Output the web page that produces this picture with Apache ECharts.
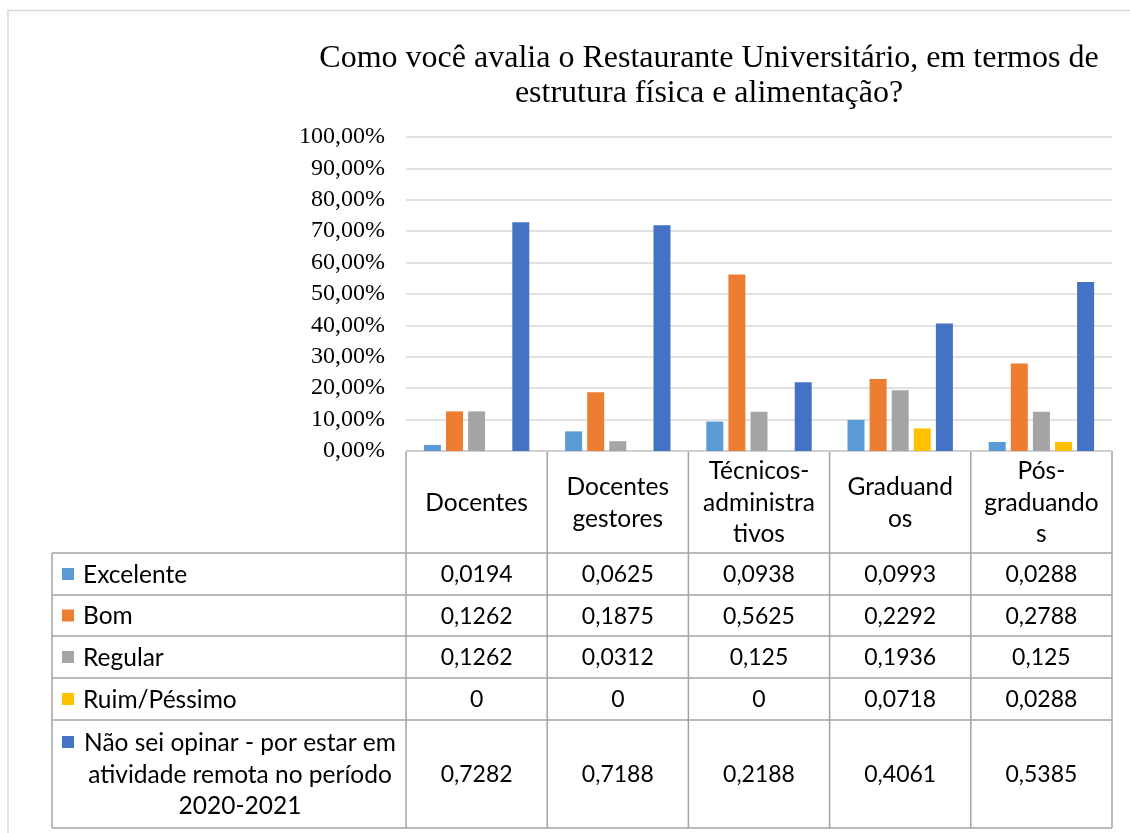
<!DOCTYPE html>
<html>
<head>
<meta charset="utf-8">
<script src="https://cdn.jsdelivr.net/npm/echarts@6/dist/echarts.min.js"></script>
<style>
  html, body { margin: 0; padding: 0; background: #ffffff; }
  #chart { width: 1130px; height: 833px; }
</style>
</head>
<body>
<div id="chart"></div>
<script>
// Groups surveyed (x categories) and their wrapped header text in the data table
const categories = ['Docentes', 'Docentes gestores', 'Técnicos-administrativos', 'Graduandos', 'Pós-graduandos'];
const headerLabels = ['Docentes', 'Docentes\ngestores', 'Técnicos-\nadministra\ntivos', 'Graduand\nos', 'Pós-\ngraduando\ns'];

// Share of answers per rating
const excelente = [0.0194, 0.0625, 0.0938, 0.0993, 0.0288];
const bom       = [0.1262, 0.1875, 0.5625, 0.2292, 0.2788];
const regular   = [0.1262, 0.0312, 0.125, 0.1936, 0.125];
const ruim      = [0, 0, 0, 0.0718, 0.0288];
const naoSei    = [0.7282, 0.7188, 0.2188, 0.4061, 0.5385];

const seriesNames = ['Excelente', 'Bom', 'Regular', 'Ruim/Péssimo',
  'Não sei opinar - por estar em atividade remota no período 2020-2021'];
const seriesLabelLines = ['Excelente', 'Bom', 'Regular', 'Ruim/Péssimo',
  'Não sei opinar - por estar em\natividade remota no período\n2020-2021'];
const seriesData = [excelente, bom, regular, ruim, naoSei];
const seriesColors = ['#5b9bd5', '#ed7d31', '#a5a5a5', '#ffc000', '#4472c4'];

const titleText = 'Como você avalia o Restaurante Universitário, em termos de\nestrutura física e alimentação?';

// y-axis ticks: 0 .. 1 step 0.1, shown as "10,00%"
const yMin = 0, yMax = 1, yStep = 0.1;
const fmtPct = v => (v * 100).toFixed(2).replace('.', ',') + '%';
const fmtVal = v => String(v).replace('.', ',');

// Layout
const W = 1130, H = 833;
const gridLeft = 406, gridRight = 1112, gridTop = 137, gridBottom = 451;
const colW = (gridRight - gridLeft) / categories.length;
const tableLeft = 52;
const rowEdges = [451, 553, 595, 636, 678, 720, 828];   // header + 5 rows
const lineColor = '#a3a3a3';
const tableFont = 'Lato, "Noto Sans", sans-serif';
const textSize = 24.5;   // header and row names
const valueSize = 23;    // numbers

const chart = echarts.init(document.getElementById('chart'), null, { renderer: 'canvas' });

const graphics = [];

// outer frame of the chart area
graphics.push({
  type: 'polyline', silent: true,
  shape: { points: [[8, H + 5], [8, 10.5], [W + 5, 10.5]] },
  style: { stroke: '#d9d9d9', lineWidth: 1.5, fill: null }
});

// table horizontal lines
rowEdges.forEach((y, i) => {
  graphics.push({
    type: 'line', silent: true,
    shape: { x1: i === 0 ? gridLeft : tableLeft, y1: y, x2: gridRight, y2: y },
    style: { stroke: lineColor, lineWidth: 1.5 }
  });
});
// table vertical lines
for (let c = 0; c <= categories.length; c++) {
  const x = gridLeft + c * colW;
  graphics.push({
    type: 'line', silent: true,
    shape: { x1: x, y1: rowEdges[0], x2: x, y2: rowEdges[rowEdges.length - 1] },
    style: { stroke: lineColor, lineWidth: 1.5 }
  });
}
graphics.push({
  type: 'line', silent: true,
  shape: { x1: tableLeft, y1: rowEdges[1], x2: tableLeft, y2: rowEdges[rowEdges.length - 1] },
  style: { stroke: lineColor, lineWidth: 1.5 }
});

// header cells
headerLabels.forEach((t, c) => {
  graphics.push({
    type: 'text', silent: true,
    x: gridLeft + (c + 0.5) * colW, y: (rowEdges[0] + rowEdges[1]) / 2 + 1,
    style: {
      text: t, fill: '#000', font: textSize + 'px ' + tableFont,
      align: 'center', verticalAlign: 'middle', lineHeight: 31.5
    }
  });
});

// series rows: legend key, name, values
seriesNames.forEach((name, r) => {
  const yTop = rowEdges[r + 1], yBot = rowEdges[r + 2];
  const yMid = (yTop + yBot) / 2;
  const multi = seriesLabelLines[r].indexOf('\n') >= 0;
  const keyY = multi ? yTop + 22 : yMid;
  graphics.push({
    type: 'rect', silent: true,
    shape: { x: 62, y: keyY - 6, width: 12, height: 12 },
    style: { fill: seriesColors[r] }
  });
  graphics.push({
    type: 'text', silent: true,
    x: multi ? 240 : 83, y: yMid + 1,
    style: {
      text: seriesLabelLines[r], fill: '#000', font: textSize + 'px ' + tableFont,
      align: multi ? 'center' : 'left', verticalAlign: 'middle', lineHeight: 31.5
    }
  });
  seriesData[r].forEach((v, c) => {
    graphics.push({
      type: 'text', silent: true,
      x: gridLeft + (c + 0.5) * colW, y: yMid + 1,
      style: {
        text: fmtVal(v), fill: '#000', font: valueSize + 'px ' + tableFont,
        align: 'center', verticalAlign: 'middle'
      }
    });
  });
});

const option = {
  backgroundColor: '#ffffff',
  animation: false,
  title: {
    text: titleText,
    left: 704, top: 36,
    textAlign: 'center',
    textStyle: {
      fontFamily: '"Liberation Serif", "Times New Roman", serif',
      fontSize: 32, fontWeight: 'normal', color: '#000', lineHeight: 35
    }
  },
  legend: { show: false },
  grid: {
    left: gridLeft, right: W - gridRight, top: gridTop, bottom: H - gridBottom,
    containLabel: false
  },
  xAxis: {
    type: 'category',
    data: categories,
    axisLine: { show: false },
    axisTick: { show: false },
    axisLabel: { show: false },
    splitLine: { show: false }
  },
  yAxis: {
    type: 'value',
    min: yMin, max: yMax, interval: yStep,
    axisLine: { show: false },
    axisTick: { show: false },
    axisLabel: {
      formatter: fmtPct, margin: 21, color: '#000',
      fontFamily: '"Liberation Serif", "Times New Roman", serif', fontSize: 24
    },
    splitLine: { lineStyle: { color: '#d9d9d9', width: 1.5 } }
  },
  series: seriesNames.map((name, i) => ({
    name: name,
    type: 'bar',
    data: seriesData[i],
    barWidth: 17,
    barGap: '30%',
    itemStyle: { color: seriesColors[i] }
  })),
  graphic: graphics
};

chart.setOption(option);
</script>
</body>
</html>
